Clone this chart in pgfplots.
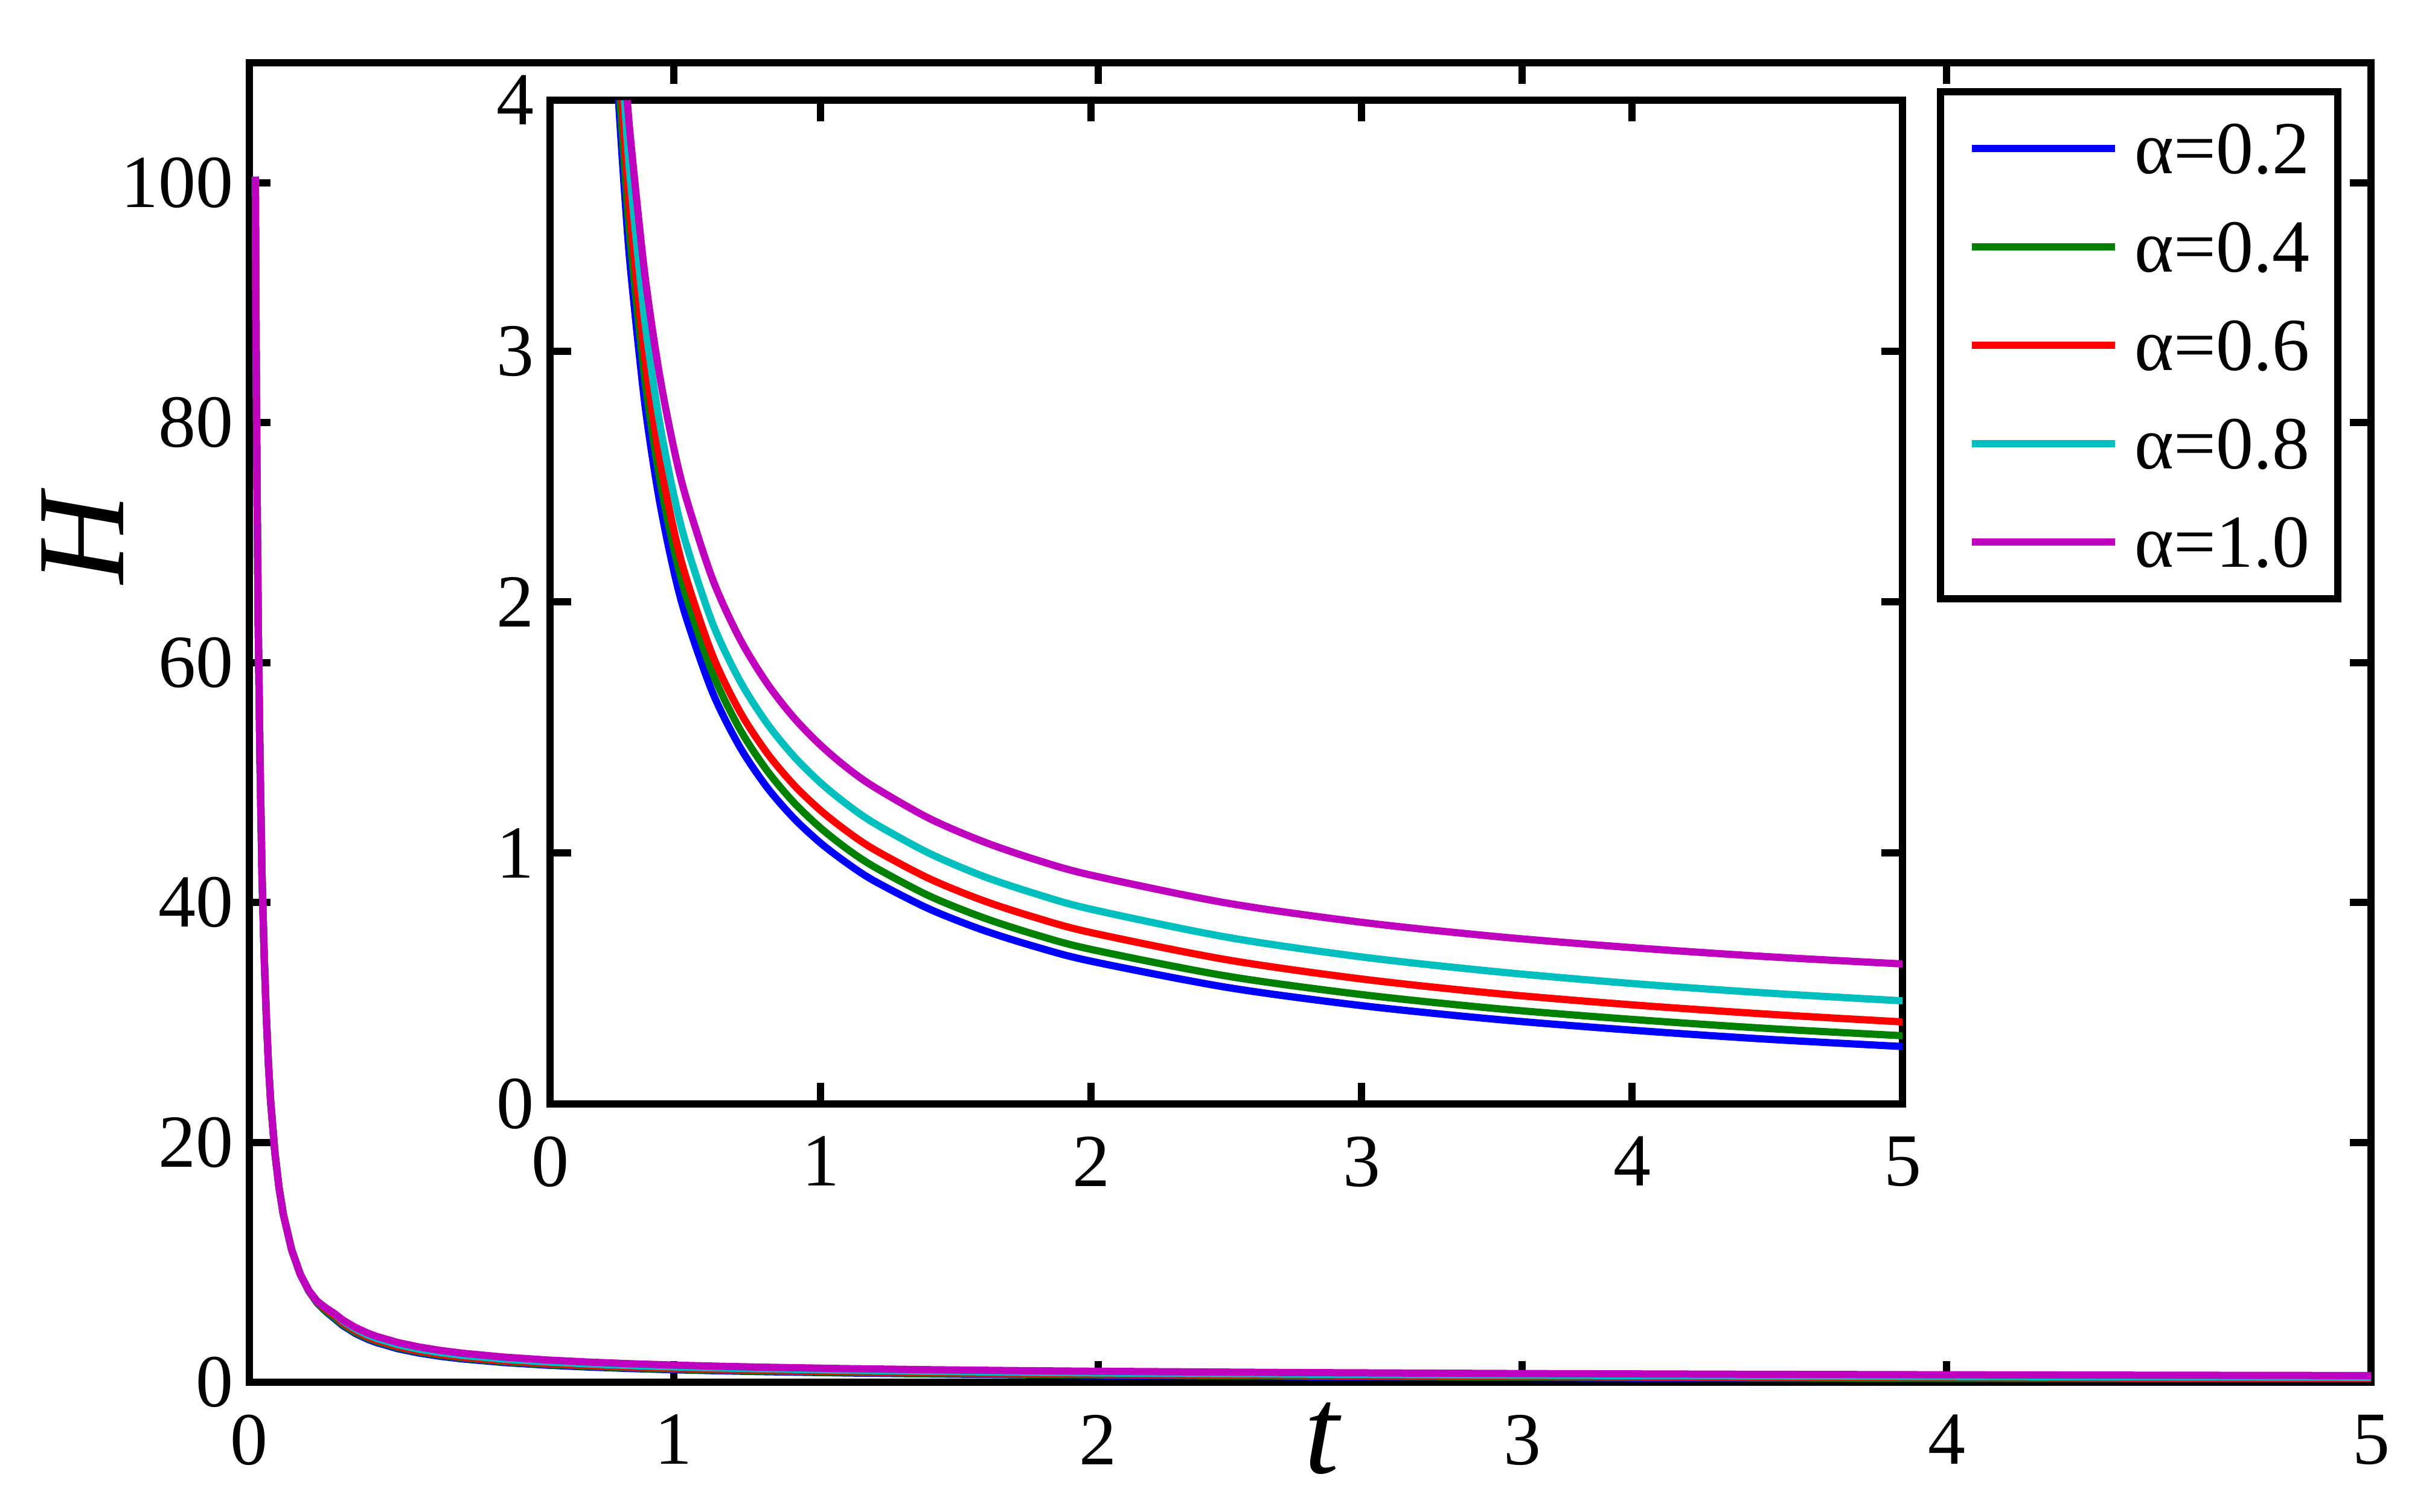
\documentclass[border=0pt]{standalone}
\usepackage{fontspec}
\setmainfont{Liberation Serif}
\usepackage{pgfplots}
\usepackage{pgfplotstable}
\pgfplotsset{compat=1.18}
\definecolor{mblue}{RGB}{0,0,255}
\definecolor{mgreen}{RGB}{0,128,0}
\definecolor{mred}{RGB}{255,0,0}
\definecolor{mcyan}{RGB}{0,191,191}
\definecolor{mmagenta}{RGB}{191,0,191}
\pgfplotstableread{
t      a2     a4     a6     a8     a10
0.014  100.5  100.5  100.5  100.5  100.5
0.016  86     86     86     86     86
0.018  75     75     75     75     75
0.021  63     63     63     63     63
0.025  52     52     52     52     52
0.030  42     42     42     42     42
0.035  35.5   35.5   35.5   35.5   35.5
0.040  30.5   30.5   30.5   30.5   30.5
0.045  26.5   26.5   26.5   26.5   26.5
0.050  23.5   23.5   23.5   23.5   23.5
0.060  19.2   19.2   19.2   19.2   19.2
0.070  16.2   16.2   16.2   16.2   16.2
0.080  14.0   14.0   14.0   14.0   14.0
0.100  11.0   11.0   11.0   11.0   11.0
0.120  9.0    9.0    9.0    9.0    9.0
0.140  7.6    7.6    7.65   7.65   7.65
0.160  6.6    6.65   6.7    6.75   6.75
0.180  5.9    5.95   6.1    6.2    6.2
0.200  5.320  5.403  5.594  5.725  5.742
0.220  4.729  4.821  4.980  5.121  5.195
0.250  4.060  4.158  4.287  4.434  4.562
0.280  3.565  3.664  3.773  3.923  4.081
0.300  3.300  3.400  3.500  3.650  3.820
0.350  2.794  2.891  2.977  3.125  3.310
0.400  2.432  2.525  2.604  2.748  2.937
0.450  2.161  2.250  2.325  2.465  2.652
0.500  1.950  2.035  2.108  2.243  2.427
0.600  1.642  1.719  1.790  1.918  2.094
0.700  1.426  1.497  1.567  1.690  1.857
0.800  1.265  1.332  1.402  1.520  1.680
0.900  1.140  1.203  1.273  1.387  1.541
1.000  1.040  1.100  1.170  1.280  1.430
1.100  0.958  1.015  1.085  1.192  1.338
1.200  0.888  0.944  1.013  1.118  1.262
1.400  0.778  0.830  0.899  1.000  1.139
1.600  0.693  0.743  0.811  0.908  1.046
1.800  0.625  0.673  0.741  0.836  0.972
2.000  0.569  0.616  0.683  0.776  0.912
2.500  0.465  0.510  0.575  0.665  0.801
3.000  0.392  0.436  0.498  0.586  0.724
3.500  0.337  0.380  0.440  0.527  0.667
4.000  0.294  0.337  0.395  0.480  0.623
4.500  0.258  0.301  0.358  0.442  0.587
5.000  0.229  0.272  0.327  0.411  0.558
}\datatable
\pgfplotsset{
  mystyle/.style={
    scale only axis,
    xmin=0, xmax=5,
    xtick={0,1,2,3,4,5},
    tick align=inside,
    xtick pos=both, ytick pos=both,
    xticklabel pos=bottom, yticklabel pos=left,
    major tick length=3.5bp,
    minor tick num=0,
    axis line style={line width=1.2bp, black},
    every tick/.style={line width=1.2bp, black},
    tick label style={font=\fontsize{12.4bp}{14bp}\selectfont},
    /pgf/number format/assume math mode=true,
    yticklabel style={inner sep=0pt, xshift=-2.5bp},
    xticklabel style={inner sep=0pt, yshift=-5.2bp},
    every axis plot/.append style={line width=1.2bp, line join=round},
  }
}
\begin{document}
\begin{tikzpicture}
\path[use as bounding box] (0,0) rectangle (403.3bp,250.5bp);
\begin{axis}[mystyle,
  at={(41.3bp,21.5bp)}, anchor=south west,
  width=351.4bp, height=218.6bp,
  ymin=0, ymax=110,
  ytick={0,20,40,60,80,100},
  xlabel={\textit{t}},
  ylabel={\textit{H}},
  xlabel style={at={(rel axis cs:0.506,-0.0428)}, anchor=center, inner sep=0pt, font=\fontsize{20.7bp}{24bp}\selectfont},
  ylabel style={at={(rel axis cs:-0.0787,0.6414)}, anchor=center, inner sep=0pt, font=\fontsize{20.7bp}{24bp}\selectfont},
  legend style={at={(0.986,0.981)}, anchor=north east, draw=black, line width=1.2bp, fill=white,
    inner xsep=4.6bp, inner ysep=5.2bp, row sep=7.9bp, column sep=2.7bp,
    nodes={inner sep=0pt, text height=8.4bp, text depth=0pt, anchor=base west},
    font=\fontsize{12.4bp}{14bp}\selectfont, cells={anchor=base west}},
  legend image code/.code={\path[draw=none,fill=none] (0bp,0bp) rectangle (23.7bp,8.4bp);\draw[#1,line width=1.2bp] (0bp,4.2bp) -- (23.7bp,4.2bp);},
]
\addplot[mblue] table[x=t,y=a2] {\datatable};
\addlegendentry{α=0.2}
\addplot[mgreen] table[x=t,y=a4] {\datatable};
\addlegendentry{α=0.4}
\addplot[mred] table[x=t,y=a6] {\datatable};
\addlegendentry{α=0.6}
\addplot[mcyan] table[x=t,y=a8] {\datatable};
\addlegendentry{α=0.8}
\addplot[mmagenta] table[x=t,y=a10] {\datatable};
\addlegendentry{α=1.0}
\end{axis}
\begin{axis}[mystyle,
  at={(91.1bp,67.6bp)}, anchor=south west,
  width=224bp, height=166.3bp,
  ymin=0, ymax=4,
  ytick={0,1,2,3,4},
  axis background/.style={fill=white},
]
\addplot[mblue, smooth, tension=0.5] table[x=t,y=a2] {\datatable};
\addplot[mgreen, smooth, tension=0.5] table[x=t,y=a4] {\datatable};
\addplot[mred, smooth, tension=0.5] table[x=t,y=a6] {\datatable};
\addplot[mcyan, smooth, tension=0.5] table[x=t,y=a8] {\datatable};
\addplot[mmagenta, smooth, tension=0.5] table[x=t,y=a10] {\datatable};
\end{axis}
\end{tikzpicture}
\end{document}
